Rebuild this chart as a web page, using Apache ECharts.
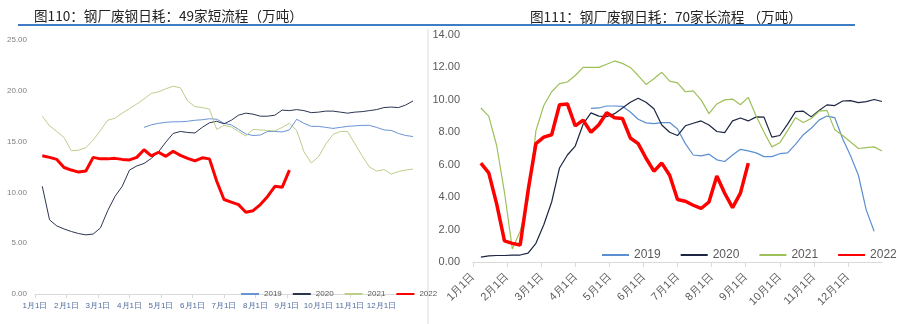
<!DOCTYPE html>
<html><head><meta charset="utf-8">
<script src="https://cdn.jsdelivr.net/npm/echarts@6/dist/echarts.min.js"></script>
<style>html,body{margin:0;padding:0;background:#fff}#c{width:900px;height:324px}</style>
</head><body><div id="c"></div>
<script>
// ---- data (weekly values, week index from 1) ----
const monthLabels = ['1月1日','2月1日','3月1日','4月1日','5月1日','6月1日','7月1日','8月1日','9月1日','10月1日','11月1日','12月1日'];
const seriesNames = ['2019','2020','2021','2022'];
const leftTitle = '图110：钢厂废钢日耗：49家短流程（万吨）';
const rightTitle = '图111：钢厂废钢日耗：70家长流程 （万吨）';

const shortStart2019 = 15;
const short2019 = [16.4,16.65,16.8,16.9,16.95,16.95,17.0,17.1,17.15,17.25,17.2,16.8,16.65,16.2,15.75,15.6,15.65,16.0,16.0,15.95,16.15,17.2,16.8,16.5,16.5,16.4,16.3,16.4,16.5,16.55,16.6,16.6,16.4,16.15,16.1,15.8,15.6,15.5];
const short2020 = [10.6,7.3,6.7,6.4,6.15,5.95,5.82,5.9,6.5,8.2,9.6,10.6,12.2,12.6,12.85,13.35,14.0,14.95,15.8,16.0,15.9,15.85,16.4,16.85,17.0,16.75,17.1,17.6,17.8,17.7,17.5,17.5,17.6,18.1,18.05,18.15,18.05,17.85,17.9,18.0,18.0,17.9,17.8,17.9,17.95,18.05,18.15,18.35,18.4,18.35,18.6,19.0];
const short2021 = [17.5,16.55,16.0,15.4,14.1,14.15,14.4,15.15,16.1,17.1,17.3,17.8,18.25,18.7,19.2,19.75,19.9,20.2,20.45,20.3,19.0,18.45,18.35,18.2,16.2,16.6,16.45,16.0,15.55,16.2,16.15,16.1,16.05,16.4,16.8,16.1,14.0,12.9,13.5,14.75,15.7,16.0,16.0,14.8,13.6,12.5,12.1,12.25,11.8,12.05,12.2,12.3];
const short2022 = [13.6,13.45,13.25,12.45,12.2,12.0,12.1,13.45,13.3,13.3,13.35,13.25,13.2,13.45,14.2,13.6,13.95,13.55,14.05,13.65,13.35,13.1,13.4,13.3,11.1,9.3,9.05,8.8,8.05,8.2,8.8,9.6,10.6,10.5,12.2];

const longStart2019 = 15;
const long2019 = [9.48,9.5,9.62,9.62,9.6,9.25,8.8,8.58,8.53,8.6,8.6,8.2,7.3,6.6,6.55,6.65,6.3,6.2,6.6,6.95,6.85,6.73,6.5,6.5,6.68,6.73,7.25,7.85,8.25,8.75,9.0,8.9,7.6,6.55,5.35,3.2,1.9];
const long2020 = [0.3,0.38,0.4,0.4,0.42,0.43,0.55,1.15,2.3,3.7,5.8,6.6,7.15,8.5,9.2,9.0,8.96,9.15,9.5,9.85,10.1,9.85,9.45,8.45,8.0,7.8,8.4,8.56,8.7,8.45,8.05,7.98,8.7,8.88,8.7,8.95,8.93,7.7,7.8,8.5,9.27,9.3,8.95,9.35,9.69,9.65,9.93,9.95,9.83,9.89,10.02,9.9];
const long2021 = [9.5,9.0,7.2,4.3,0.8,1.9,3.8,8.1,9.65,10.5,11.0,11.1,11.5,12.0,12.0,12.0,12.2,12.4,12.25,12.0,11.5,10.95,11.3,11.7,11.15,11.05,10.5,10.55,10.0,9.15,9.75,10.0,10.05,9.7,10.15,9.0,8.0,7.1,7.35,8.1,8.9,8.6,8.85,9.3,9.35,8.15,7.8,7.4,7.0,7.05,7.1,6.85];
const long2022 = [6.1,5.5,3.6,1.3,1.15,1.05,4.4,7.3,7.7,7.85,9.7,9.75,8.4,8.75,8.0,8.47,9.2,8.9,8.85,7.65,7.3,6.4,5.6,6.1,5.35,3.85,3.75,3.5,3.3,3.7,5.3,4.24,3.35,4.25,6.1];

// week index -> month position on the axis (12 months = 52 weeks)
function pairs(arr, start){ return arr.map((v,i)=>[(start+i)*12/52, v]); }

const colorsL = ['#6A93D4','#2B3550','#BCCE8C','#FF0000'];
const colorsR = ['#5B8FD0','#1C2541','#9DC05A','#FF0000'];

const chart = echarts.init(document.getElementById('c'));
function mk(name, data, color, width, xi){
  return {name, type:'line', xAxisIndex:xi, yAxisIndex:xi, data, symbol:'none', showSymbol:false, smooth:false,
    lineStyle:{color, width}, itemStyle:{color}, animation:false, z: name.trim()==='2022'?5:2};
}
const xLab = v => (v < 12 ? monthLabels[v] : '');

chart.setOption({
  animation:false,
  title:[
    {text:leftTitle, left:29, top:4, textStyle:{fontSize:13.6, fontWeight:'normal', color:'#222', fontFamily:'Noto Sans CJK SC'}},
    {text:rightTitle, left:525, top:5, textStyle:{fontSize:13.6, fontWeight:'normal', color:'#222', fontFamily:'Noto Sans CJK SC'}}
  ],
  graphic:[
    {type:'line', shape:{x1:18,y1:25,x2:855,y2:25}, style:{stroke:'#3E7CC4', lineWidth:2}},
    {type:'line', shape:{x1:428,y1:29,x2:428,y2:324}, style:{stroke:'#D9D9D9', lineWidth:1}}
  ],
  legend:[
    {data:seriesNames.map(n=>({name:n})), left:235, top:285, width:220, itemWidth:18, itemHeight:8, itemGap:10,
     itemStyle:{opacity:0}, textStyle:{fontSize:8, color:'#595959'}, selectedMode:false},
    {data:seriesNames.map(n=>({name:n+' '})), left:596, top:244, width:310, itemWidth:27, itemHeight:12, itemGap:19,
     itemStyle:{opacity:0}, textStyle:{fontSize:12, color:'#595959'}, formatter:n=>n.trim(), selectedMode:false}
  ],
  grid:[
    {left:35, right:487, top:40, bottom:30},
    {left:473, right:18, top:35, bottom:62}
  ],
  xAxis:[
    {type:'value', gridIndex:0, min:0, max:12, interval:1,
     axisLine:{lineStyle:{color:'#D9D9D9'}}, axisTick:{show:true, length:4, lineStyle:{color:'#D9D9D9'}},
     splitLine:{show:false}, axisLabel:{formatter:xLab, fontSize:8, color:'#4E6A9E', margin:8, showMaxLabel:false}},
    {type:'value', gridIndex:1, min:0, max:12, interval:1,
     axisLine:{lineStyle:{color:'#D9D9D9'}}, axisTick:{show:true, length:5, lineStyle:{color:'#D9D9D9'}},
     splitLine:{show:false}, axisLabel:{formatter:xLab, fontSize:11, color:'#595959', rotate:45, margin:13, showMaxLabel:false}}
  ],
  yAxis:[
    {type:'value', gridIndex:0, min:0, max:25, interval:5, axisLine:{show:false}, axisTick:{show:false},
     splitLine:{show:false}, axisLabel:{formatter:v=>v.toFixed(2), fontSize:8, color:'#7F7F7F', margin:8}},
    {type:'value', gridIndex:1, min:0, max:14, interval:2, axisLine:{show:false}, axisTick:{show:false},
     splitLine:{show:false}, axisLabel:{formatter:v=>v.toFixed(2), fontSize:11, color:'#595959', margin:13}}
  ],
  series:[
    mk('2019', pairs(short2019, shortStart2019), colorsL[0], 1, 0),
    mk('2020', pairs(short2020, 1), colorsL[1], 1, 0),
    mk('2021', pairs(short2021, 1), colorsL[2], 1, 0),
    mk('2022', pairs(short2022, 1), colorsL[3], 3, 0),
    mk('2019 ', pairs(long2019, longStart2019), colorsR[0], 1.2, 1),
    mk('2020 ', pairs(long2020, 1), colorsR[1], 1.2, 1),
    mk('2021 ', pairs(long2021, 1), colorsR[2], 1.2, 1),
    mk('2022 ', pairs(long2022, 1), colorsR[3], 3.5, 1)
  ]
});
</script></body></html>
